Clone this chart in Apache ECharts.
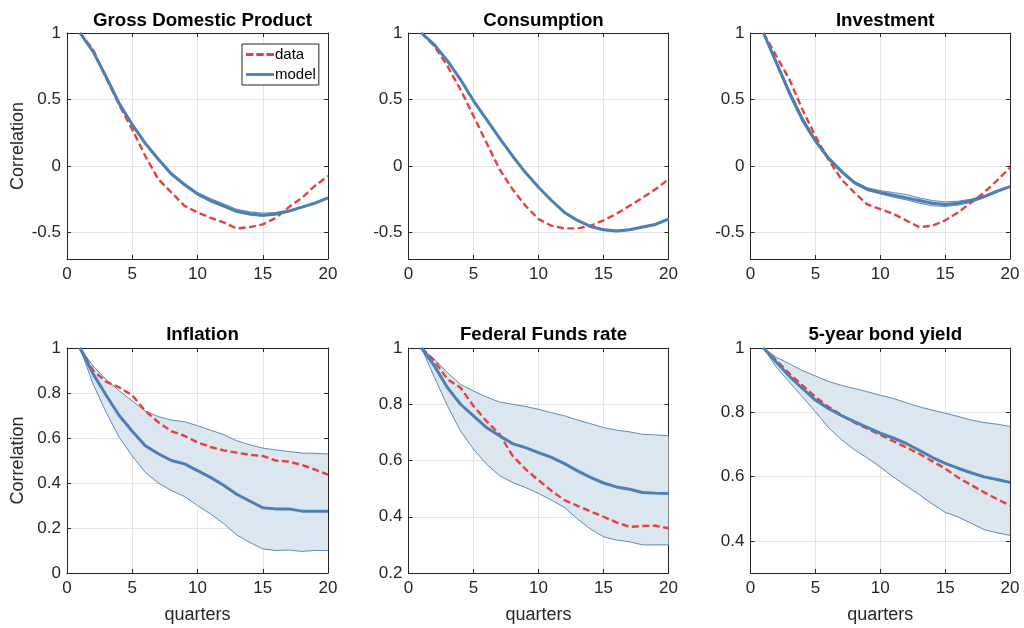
<!DOCTYPE html>
<html>
<head>
<meta charset="utf-8">
<script src="https://cdn.jsdelivr.net/npm/echarts@6/dist/echarts.min.js"></script>
<style>
  html, body { margin: 0; padding: 0; background: #fff; }
  #chart { width: 1024px; height: 628px; }
</style>
</head>
<body>
<div id="chart"></div>
<script>
// Autocorrelations at lags 1..20 quarters: data vs. model (mean and band)
const lags = [1, 2, 3, 4, 5, 6, 7, 8, 9, 10, 11, 12, 13, 14, 15, 16, 17, 18, 19, 20];
const titles = ['Gross Domestic Product', 'Consumption', 'Investment',
                'Inflation', 'Federal Funds rate', '5-year bond yield'];

// Gross Domestic Product
const gdpData  = [1, 0.875, 0.66, 0.46, 0.275, 0.075, -0.1, -0.2, -0.3, -0.35, -0.39, -0.425, -0.47, -0.46, -0.44, -0.39, -0.31, -0.24, -0.15, -0.075];
const gdpModel = [1, 0.86, 0.67, 0.47, 0.31, 0.17, 0.05, -0.06, -0.14, -0.21, -0.26, -0.30, -0.34, -0.36, -0.37, -0.36, -0.34, -0.31, -0.28, -0.24];
const gdpHi    = [1, 0.87, 0.68, 0.48, 0.32, 0.18, 0.06, -0.05, -0.13, -0.2, -0.245, -0.285, -0.325, -0.345, -0.355, -0.35, -0.333, -0.305, -0.275, -0.235];
const gdpLo    = [1, 0.85, 0.66, 0.46, 0.30, 0.16, 0.04, -0.07, -0.15, -0.22, -0.27, -0.31, -0.35, -0.37, -0.38, -0.37, -0.345, -0.315, -0.285, -0.245];

// Consumption
const conData  = [1, 0.9, 0.75, 0.575, 0.375, 0.175, -0.025, -0.175, -0.3, -0.4, -0.45, -0.47, -0.47, -0.45, -0.41, -0.36, -0.3, -0.24, -0.175, -0.1];
const conModel = [1, 0.91, 0.79, 0.65, 0.49, 0.35, 0.21, 0.075, -0.05, -0.16, -0.26, -0.35, -0.41, -0.455, -0.48, -0.49, -0.48, -0.46, -0.44, -0.40];
const conHi    = [1, 0.915, 0.795, 0.655, 0.495, 0.355, 0.215, 0.08, -0.045, -0.155, -0.255, -0.345, -0.405, -0.45, -0.475, -0.485, -0.475, -0.455, -0.435, -0.395];
const conLo    = [1, 0.905, 0.785, 0.645, 0.485, 0.345, 0.205, 0.07, -0.055, -0.165, -0.265, -0.355, -0.415, -0.46, -0.485, -0.495, -0.485, -0.465, -0.445, -0.405];

// Investment
const invData  = [1, 0.825, 0.65, 0.425, 0.225, 0.05, -0.1, -0.2, -0.29, -0.325, -0.36, -0.41, -0.46, -0.45, -0.41, -0.35, -0.275, -0.2, -0.11, -0.0125];
const invModel = [1, 0.775, 0.55, 0.35, 0.19, 0.06, -0.04, -0.125, -0.175, -0.2, -0.22, -0.24, -0.26, -0.28, -0.29, -0.28, -0.26, -0.23, -0.19, -0.155];
const invHi    = [1, 0.79, 0.57, 0.37, 0.2, 0.07, -0.03, -0.115, -0.165, -0.185, -0.2, -0.215, -0.24, -0.26, -0.27, -0.265, -0.25, -0.225, -0.185, -0.15];
const invLo    = [1, 0.76, 0.53, 0.33, 0.175, 0.045, -0.05, -0.135, -0.185, -0.21, -0.235, -0.255, -0.28, -0.3, -0.305, -0.295, -0.275, -0.24, -0.2, -0.16];

// Inflation
const infData  = [1, 0.9, 0.85, 0.825, 0.79, 0.72, 0.67, 0.63, 0.61, 0.58, 0.56, 0.545, 0.535, 0.525, 0.52, 0.50, 0.495, 0.48, 0.46, 0.437];
const infModel = [1, 0.885, 0.79, 0.70, 0.63, 0.566, 0.53, 0.50, 0.485, 0.455, 0.425, 0.39, 0.35, 0.32, 0.29, 0.285, 0.285, 0.275, 0.275, 0.275];
const infHi    = [1, 0.92, 0.86, 0.81, 0.765, 0.72, 0.695, 0.68, 0.672, 0.655, 0.635, 0.615, 0.588, 0.57, 0.555, 0.547, 0.54, 0.533, 0.532, 0.529];
const infLo    = [1, 0.84, 0.714, 0.603, 0.52, 0.447, 0.40, 0.366, 0.34, 0.30, 0.262, 0.22, 0.169, 0.136, 0.107, 0.10, 0.102, 0.096, 0.1, 0.1];

// Federal Funds rate
const ffrData  = [1, 0.954, 0.889, 0.859, 0.794, 0.74, 0.694, 0.617, 0.569, 0.53, 0.492, 0.459, 0.439, 0.419, 0.40, 0.38, 0.364, 0.367, 0.368, 0.359];
const ffrModel = [1, 0.936, 0.859, 0.80, 0.759, 0.717, 0.688, 0.66, 0.646, 0.628, 0.611, 0.589, 0.563, 0.54, 0.52, 0.506, 0.498, 0.486, 0.484, 0.483];
const ffrHi    = [1, 0.96, 0.912, 0.871, 0.847, 0.826, 0.808, 0.80, 0.792, 0.782, 0.77, 0.759, 0.744, 0.731, 0.717, 0.708, 0.702, 0.693, 0.691, 0.688];
const ffrLo    = [1, 0.895, 0.794, 0.705, 0.64, 0.587, 0.546, 0.522, 0.504, 0.483, 0.459, 0.433, 0.392, 0.356, 0.329, 0.317, 0.311, 0.30, 0.30, 0.30];

// 5-year bond yield
const bndData  = [1, 0.961, 0.92, 0.884, 0.848, 0.817, 0.792, 0.768, 0.749, 0.73, 0.71, 0.691, 0.671, 0.648, 0.625, 0.597, 0.574, 0.551, 0.53, 0.51];
const bndModel = [1, 0.956, 0.912, 0.874, 0.838, 0.812, 0.79, 0.771, 0.753, 0.735, 0.72, 0.703, 0.682, 0.66, 0.641, 0.626, 0.612, 0.599, 0.591, 0.582];
const bndHi    = [1, 0.971, 0.951, 0.93, 0.913, 0.896, 0.884, 0.874, 0.864, 0.853, 0.843, 0.83, 0.817, 0.807, 0.797, 0.787, 0.776, 0.768, 0.763, 0.756];
const bndLo    = [1, 0.94, 0.894, 0.848, 0.802, 0.753, 0.715, 0.684, 0.658, 0.63, 0.599, 0.571, 0.544, 0.515, 0.489, 0.474, 0.455, 0.435, 0.425, 0.417];

// Axis ranges and tick values
const xTicks = [0, 5, 10, 15, 20];
const yRanges = [[-0.7, 1], [-0.7, 1], [-0.7, 1], [0, 1], [0.2, 1], [0.3, 1]];
const yTicks = [
  [-0.5, 0, 0.5, 1], [-0.5, 0, 0.5, 1], [-0.5, 0, 0.5, 1],
  [0, 0.2, 0.4, 0.6, 0.8, 1], [0.2, 0.4, 0.6, 0.8, 1], [0.4, 0.6, 0.8, 1]
];

const panels = [
  { data: gdpData, model: gdpModel, hi: gdpHi, lo: gdpLo },
  { data: conData, model: conModel, hi: conHi, lo: conLo },
  { data: invData, model: invModel, hi: invHi, lo: invLo },
  { data: infData, model: infModel, hi: infHi, lo: infLo },
  { data: ffrData, model: ffrModel, hi: ffrHi, lo: ffrLo },
  { data: bndData, model: bndModel, hi: bndHi, lo: bndLo }
];

// Plot-area boxes in pixels
const colLeft = [67, 408.5, 750.5];
const colWidth = [261, 260, 259.5];
const rowTop = [33, 348];
const rowHeight = [226, 225];

const RED = '#E4413F';
const BLUE = '#4D7FB2';
const BAND = '#DCE6EF';
const INK = '#262626';
const GRIDC = '#E3E3E3';
const FONT = '"Liberation Sans", Arial, Helvetica, sans-serif';

// Legend glyphs: a dashed red stroke and a solid blue stroke
const ICON_DASHED = 'path://M0,0h8v3h-8z M11,0h8v3h-8z M22,0h8v3h-8z';
const ICON_SOLID = 'path://M0,0h30v3h-30z';

const grids = [], xAxes = [], yAxes = [], series = [], titleArr = [];

panels.forEach((p, i) => {
  const r = Math.floor(i / 3), c = i % 3;
  grids.push({ left: colLeft[c], top: rowTop[r], width: colWidth[c], height: rowHeight[r], containLabel: false });

  titleArr.push({
    text: titles[i],
    left: colLeft[c] + colWidth[c] / 2,
    top: r === 0 ? 6 : 320,
    textAlign: 'center',
    textStyle: { fontFamily: FONT, fontSize: 18.7, fontWeight: 'bold', color: '#000' }
  });

  const tickCommon = { inside: true, length: 4, lineStyle: { color: INK, width: 1 } };

  // main x axis (bottom) and mirrored x axis (top)
  xAxes.push({
    type: 'value', gridIndex: i, min: 0, max: 20, interval: 5,
    axisLine: { show: true, onZero: false, lineStyle: { color: INK, width: 1 } },
    axisTick: tickCommon,
    axisLabel: { fontFamily: FONT, fontSize: 17, color: INK, margin: 7 },
    splitLine: { show: true, lineStyle: { color: GRIDC, width: 1 } },
    name: r === 1 ? 'quarters' : '',
    nameLocation: 'middle', nameGap: 33,
    nameTextStyle: { fontFamily: FONT, fontSize: 18, color: INK }
  });
  xAxes.push({
    type: 'value', gridIndex: i, min: 0, max: 20, interval: 5, position: 'top',
    axisLine: { show: true, onZero: false, lineStyle: { color: INK, width: 1 } },
    axisTick: tickCommon,
    axisLabel: { show: false },
    splitLine: { show: false }
  });

  const yt = yTicks[i];
  yAxes.push({
    type: 'value', gridIndex: i, min: yRanges[i][0], max: yRanges[i][1],
    axisLine: { show: true, onZero: false, lineStyle: { color: INK, width: 1 } },
    axisTick: Object.assign({ customValues: yt }, tickCommon),
    axisLabel: { customValues: yt, fontFamily: FONT, fontSize: 17, color: INK, margin: 6 },
    splitLine: { show: true, lineStyle: { color: GRIDC, width: 1 } },
    name: c === 0 ? 'Correlation' : '',
    nameLocation: 'middle', nameGap: 40,
    nameTextStyle: { fontFamily: FONT, fontSize: 18, color: INK }
  });
  yAxes.push({
    type: 'value', gridIndex: i, min: yRanges[i][0], max: yRanges[i][1], position: 'right',
    axisLine: { show: true, onZero: false, lineStyle: { color: INK, width: 1 } },
    axisTick: Object.assign({ customValues: yt }, tickCommon),
    axisLabel: { show: false },
    splitLine: { show: false }
  });

  const xi = 2 * i, yi = 2 * i;
  const pairs = arr => lags.map((x, k) => [x, arr[k]]);

  // shaded model band
  series.push({
    type: 'custom', xAxisIndex: xi, yAxisIndex: yi, silent: true, z: 1,
    data: [[lags[0], p.hi[0]]],
    renderItem: (params, api) => {
      const pts = [];
      for (let k = 0; k < lags.length; k++) pts.push(api.coord([lags[k], p.hi[k]]));
      for (let k = lags.length - 1; k >= 0; k--) pts.push(api.coord([lags[k], p.lo[k]]));
      return { type: 'polygon', shape: { points: pts }, style: { fill: BAND } };
    }
  });
  // band edges
  [p.hi, p.lo].forEach(edge => {
    series.push({
      type: 'line', xAxisIndex: xi, yAxisIndex: yi, data: pairs(edge), z: 2,
      symbol: 'none', silent: true, lineStyle: { color: BLUE, width: 0.9 }
    });
  });
  // data (dashed red)
  series.push({
    name: 'data', type: 'line', xAxisIndex: xi, yAxisIndex: yi, data: pairs(p.data), z: 3,
    symbol: 'none', lineStyle: { color: RED, width: 2.4, type: [7, 3.5] }, itemStyle: { color: RED }
  });
  // model mean (thick blue)
  series.push({
    name: 'model', type: 'line', xAxisIndex: xi, yAxisIndex: yi, data: pairs(p.model), z: 4,
    symbol: 'none', lineStyle: { color: BLUE, width: 3 }, itemStyle: { color: BLUE }
  });
});

const chart = echarts.init(document.getElementById('chart'), null, { renderer: 'canvas' });
chart.setOption({
  animation: false,
  backgroundColor: '#fff',
  title: titleArr,
  grid: grids,
  xAxis: xAxes,
  yAxis: yAxes,
  legend: {
    data: [
      { name: 'data', icon: ICON_DASHED },
      { name: 'model', icon: ICON_SOLID }
    ],
    orient: 'vertical',
    left: 242, top: 44,
    itemWidth: 28, itemHeight: 3, itemGap: 5,
    padding: [3, 3, 3, 4],
    backgroundColor: '#fff',
    borderColor: INK, borderWidth: 1, borderRadius: 0,
    textStyle: { fontFamily: FONT, fontSize: 15, color: '#000', padding: [0, 0, 0, -4] }
  },
  series: series
});
</script>
</body>
</html>
